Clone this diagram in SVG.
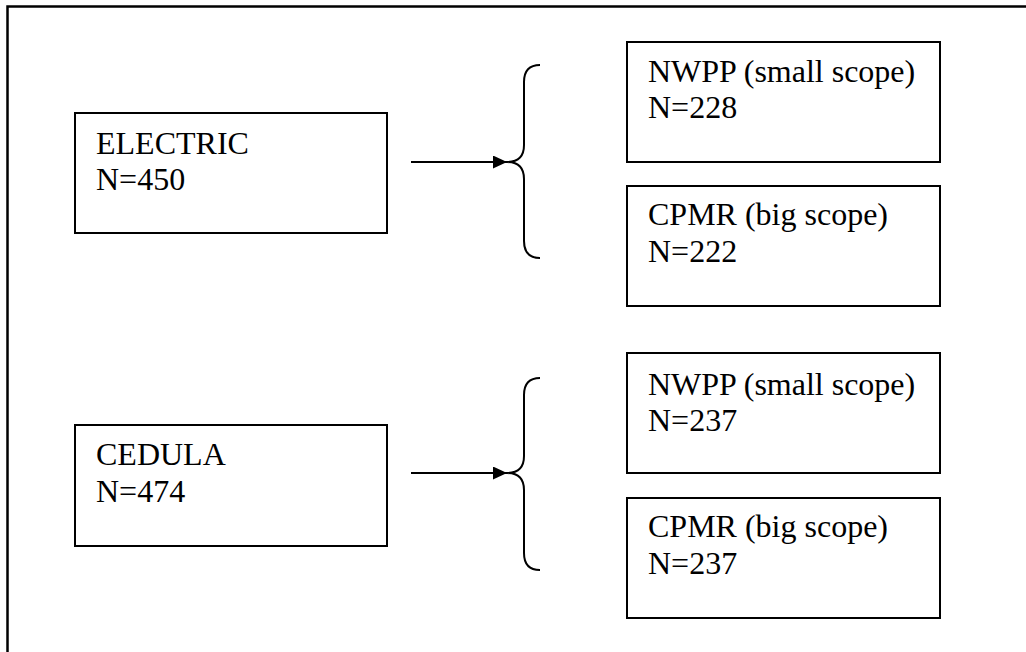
<svg xmlns="http://www.w3.org/2000/svg" width="1026" height="652" viewBox="0 0 1026 652">
<style>
.box{fill:#fff;stroke:#000;stroke-width:2}
.t{font-family:"Liberation Serif","Times New Roman",serif;font-size:32px;fill:#000}
.c{fill:none;stroke:#000;stroke-width:2}
</style>
<defs>
<marker id="ah" markerWidth="14" markerHeight="13" refX="14" refY="6.5" orient="auto" markerUnits="userSpaceOnUse">
<path d="M0,0 L14,6.5 L0,13 Z" fill="#000"/>
</marker>
</defs>
<rect width="1026" height="652" fill="#fff"/>
<rect id="frame" x="7.5" y="6.5" width="1040" height="680" fill="none" stroke="#000" stroke-width="2.5"/>
<g id="electric">
<rect class="box" x="75" y="113" width="312" height="120"/>
<text class="t" x="96" y="154">ELECTRIC</text>
<text class="t" x="96" y="190">N=450</text>
</g>
<g id="nwpp1">
<rect class="box" x="627" y="42" width="313" height="120"/>
<text class="t" x="648" y="82">NWPP (small scope)</text>
<text class="t" x="648" y="118">N=228</text>
</g>
<g id="cpmr1">
<rect class="box" x="627" y="186" width="313" height="120"/>
<text class="t" x="648" y="225">CPMR (big scope)</text>
<text class="t" x="648" y="262">N=222</text>
</g>
<g id="cedula">
<rect class="box" x="75" y="425" width="312" height="121"/>
<text class="t" x="96" y="465">CEDULA</text>
<text class="t" x="96" y="502">N=474</text>
</g>
<g id="nwpp2">
<rect class="box" x="627" y="353" width="313" height="120"/>
<text class="t" x="648" y="395">NWPP (small scope)</text>
<text class="t" x="648" y="431">N=237</text>
</g>
<g id="cpmr2">
<rect class="box" x="627" y="498" width="313" height="120"/>
<text class="t" x="648" y="537">CPMR (big scope)</text>
<text class="t" x="648" y="574">N=237</text>
</g>
<g id="connectors">
<line class="c" x1="411" y1="162" x2="507" y2="162" marker-end="url(#ah)"/>
<path class="c" d="M540,65 Q524,65 524,82 L524,145 Q524,162 507,162 Q524,162 524,179 L524,241 Q524,258 540,258"/>
<line class="c" x1="411" y1="473" x2="507" y2="473" marker-end="url(#ah)"/>
<path class="c" d="M540,378 Q524,378 524,395 L524,456 Q524,473 507,473 Q524,473 524,490 L524,553 Q524,570 540,570"/>
</g>
</svg>
